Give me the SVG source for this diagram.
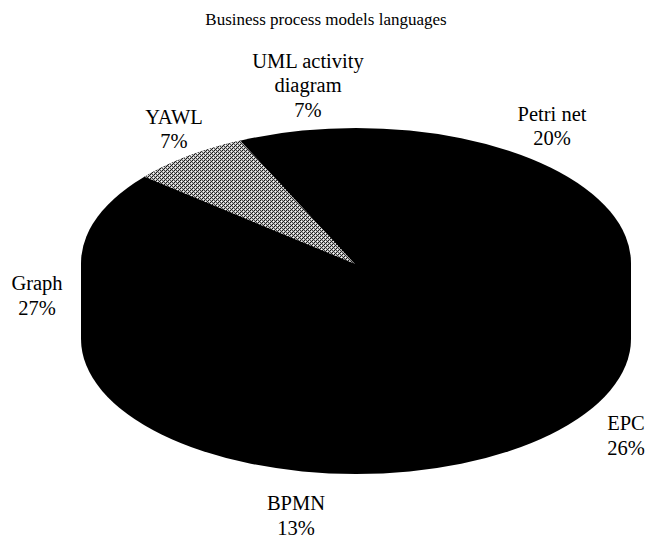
<svg xmlns="http://www.w3.org/2000/svg" width="648" height="542" viewBox="0 0 648 542" font-family="Liberation Serif, Times New Roman, Times, DejaVu Serif, serif">
  <style>
    text { fill: #000; text-anchor: middle; }
    .lbl { font-size: 20.5px; }
    .title { font-size: 17px; }
    .pie { fill: #000; stroke: none; }
  </style>
  <defs>
    <pattern id="dither" width="4" height="4" patternUnits="userSpaceOnUse">
      <rect width="4" height="4" fill="#bdbdbd"/>
      <rect x="0" y="0" width="1" height="1" fill="#111"/>
      <rect x="2" y="0" width="1" height="1" fill="#555"/>
      <rect x="1" y="1" width="1" height="1" fill="#fff"/>
      <rect x="3" y="1" width="1" height="1" fill="#222"/>
      <rect x="0" y="2" width="1" height="1" fill="#444"/>
      <rect x="2" y="2" width="1" height="1" fill="#111"/>
      <rect x="1" y="3" width="1" height="1" fill="#333"/>
      <rect x="3" y="3" width="1" height="1" fill="#eee"/>
    </pattern>
  </defs>
  <rect width="648" height="542" fill="#fff"/>
  <text class="title" x="326" y="25">Business process models languages</text>

  <g id="pie-body">
    <path class="pie" d="M 81,263 A 275,135 0 0 1 631,263 L 631,339 A 275,135 0 0 1 81,339 Z"/>
  </g>
  <g id="slice-yawl">
    <path d="M 355,264 L 144.4,176.8 A 275,135 0 0 1 240.2,140.5 Z" fill="url(#dither)"/>
  </g>

  <g id="label-uml">
    <text class="lbl" x="308" y="68">UML activity</text>
    <text class="lbl" x="308" y="92">diagram</text>
    <text class="lbl" x="308" y="117">7%</text>
  </g>
  <g id="label-yawl">
    <text class="lbl" x="174" y="124">YAWL</text>
    <text class="lbl" x="174" y="148">7%</text>
  </g>
  <g id="label-petri">
    <text class="lbl" x="552" y="121">Petri net</text>
    <text class="lbl" x="552" y="145">20%</text>
  </g>
  <g id="label-graph">
    <text class="lbl" x="37" y="290">Graph</text>
    <text class="lbl" x="37" y="315">27%</text>
  </g>
  <g id="label-epc">
    <text class="lbl" x="626" y="430">EPC</text>
    <text class="lbl" x="626" y="455">26%</text>
  </g>
  <g id="label-bpmn">
    <text class="lbl" x="296" y="510">BPMN</text>
    <text class="lbl" x="296" y="535">13%</text>
  </g>
  <g id="connectors"></g>
</svg>
